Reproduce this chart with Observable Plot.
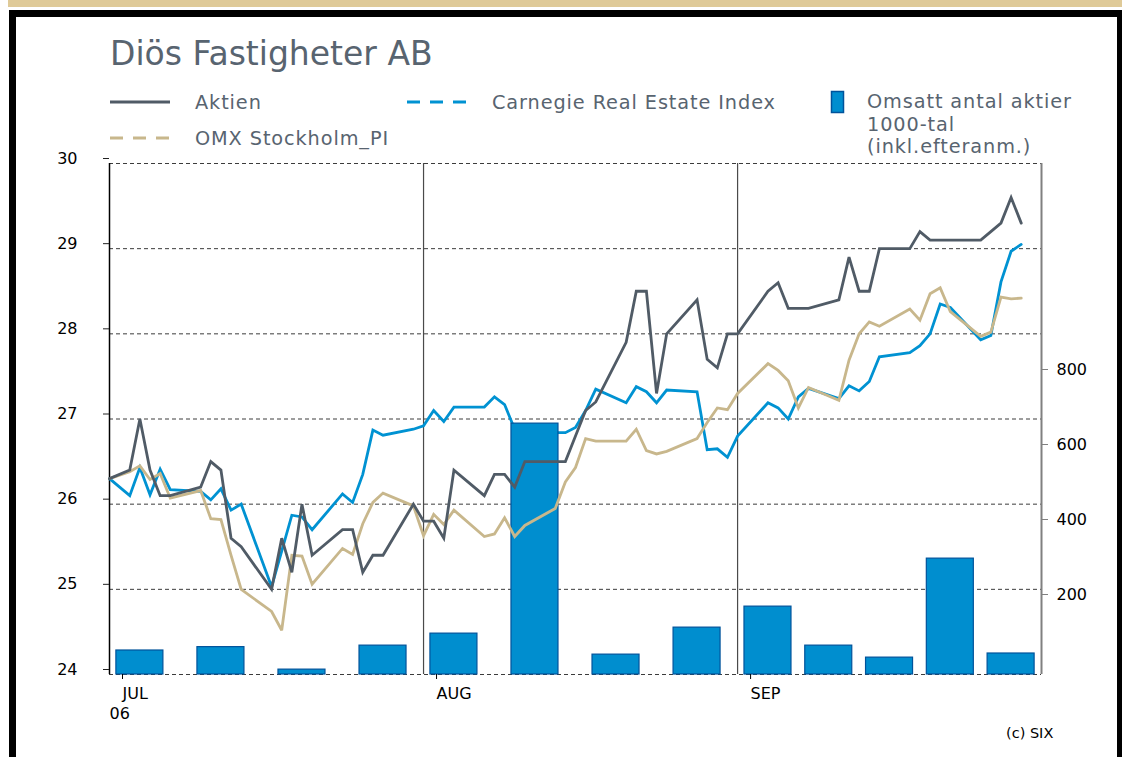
<!DOCTYPE html>
<html>
<head>
<meta charset="utf-8">
<script src="https://cdn.jsdelivr.net/npm/d3@7"></script>
<script src="https://cdn.jsdelivr.net/npm/@observablehq/plot@0.6"></script>
<style>
  html, body { margin: 0; padding: 0; background: #fff; }
  body { width: 1122px; height: 757px; overflow: hidden; position: relative; font-family: "DejaVu Sans", sans-serif; }
  .band { position: absolute; left: 8px; top: 0; width: 1114px; height: 7px; background: #dfca98; }
  .frame { position: absolute; left: 9px; top: 10px; width: 1101px; height: 900px; border: 7px solid #000; }
  #chart { position: absolute; left: 0; top: 0; }
  #hdr { position: absolute; left: 0; top: 0; }
  #hdr text { font-family: "DejaVu Sans", sans-serif; fill: #586470; }
  #hdr .lg { font-size: 19.3px; letter-spacing: 0.9px; }
  .credit { position: absolute; left: 1006px; top: 725px; font-size: 14.5px; color: #000; }
</style>
</head>
<body>
<div class="band"></div>
<div class="frame"></div>
<div id="chart"></div>
<svg id="hdr" width="1122" height="160">
  <text x="110" y="65" font-size="33">Diös Fastigheter AB</text>
  <line x1="110" x2="170" y1="102" y2="102" stroke="#505b66" stroke-width="3"/>
  <text class="lg" x="195" y="109">Aktien</text>
  <line x1="407" x2="470" y1="102" y2="102" stroke="#0092d2" stroke-width="3" stroke-dasharray="13,10"/>
  <text class="lg" x="492" y="109">Carnegie Real Estate Index</text>
  <rect x="831.5" y="91.5" width="12" height="21" fill="#008ecf" stroke="#00539b" stroke-width="1.5"/>
  <text class="lg" x="867" y="108">Omsatt antal aktier</text>
  <text class="lg" x="867" y="130.5">1000-tal</text>
  <text class="lg" x="867" y="153">(inkl.efteranm.)</text>
  <line x1="110" x2="170" y1="138" y2="138" stroke="#c8b78c" stroke-width="3" stroke-dasharray="13,10"/>
  <text class="lg" x="195" y="145">OMX Stockholm_PI</text>
</svg>
<div class="credit">(c) SIX</div>
<script>
// ---- data ----
const dates = [
  "2006-07-01","2006-07-03","2006-07-04","2006-07-05","2006-07-06","2006-07-07",
  "2006-07-10","2006-07-11","2006-07-12","2006-07-13","2006-07-14",
  "2006-07-17","2006-07-18","2006-07-19","2006-07-20","2006-07-21",
  "2006-07-24","2006-07-25","2006-07-26","2006-07-27","2006-07-28","2006-07-31",
  "2006-08-01","2006-08-02","2006-08-03","2006-08-04",
  "2006-08-07","2006-08-08","2006-08-09","2006-08-10","2006-08-11",
  "2006-08-14","2006-08-15","2006-08-16","2006-08-17","2006-08-18",
  "2006-08-21","2006-08-22","2006-08-23","2006-08-24","2006-08-25",
  "2006-08-28","2006-08-29","2006-08-30","2006-08-31",
  "2006-09-01","2006-09-04","2006-09-05","2006-09-06","2006-09-07","2006-09-08",
  "2006-09-11","2006-09-12","2006-09-13","2006-09-14","2006-09-15",
  "2006-09-18","2006-09-19","2006-09-20","2006-09-21","2006-09-22",
  "2006-09-25","2006-09-26","2006-09-27","2006-09-28","2006-09-29"
];
const aktien = [
  26.3, 26.4, 27.0, 26.4, 26.1, 26.1,
  26.2, 26.5, 26.4, 25.6, 25.5,
  25.0, 25.6, 25.2, 26.0, 25.4,
  25.7, 25.7, 25.2, 25.4, 25.4, 26.0,
  25.8, 25.8, 25.6, 26.4,
  26.1, 26.35, 26.35, 26.2, 26.5,
  26.5, 26.5, 26.8, 27.1, 27.2,
  27.9, 28.5, 28.5, 27.3, 28.0,
  28.4, 27.7, 27.6, 28.0,
  28.0, 28.5, 28.6, 28.3, 28.3, 28.3,
  28.4, 28.9, 28.5, 28.5, 29.0,
  29.0, 29.2, 29.1, 29.1, 29.1,
  29.1, 29.2, 29.3, 29.6, 29.3
];
const carnegie = [
  26.3, 26.1, 26.43, 26.11, 26.41, 26.17,
  26.15, 26.05, 26.18, 25.93, 26.0,
  25.03, 25.45, 25.87, 25.85, 25.7,
  26.12, 26.02, 26.35, 26.87, 26.81, 26.88,
  26.92, 27.10, 26.97, 27.14,
  27.14, 27.26, 27.17, 26.88, 26.85,
  26.84, 26.84, 26.9, 27.1, 27.35,
  27.19, 27.38, 27.32, 27.19, 27.34,
  27.32, 26.64, 26.65, 26.55,
  26.8, 27.19, 27.13, 27.0, 27.26, 27.36,
  27.24, 27.39, 27.33, 27.44, 27.73,
  27.78, 27.86, 28.0, 28.35, 28.31,
  27.93, 27.98, 28.61, 28.97, 29.05
];
const omx = [
  26.3, 26.38, 26.45, 26.29, 26.36, 26.07,
  26.16, 25.83, 25.82, 25.4, 25.0,
  24.74, 24.52, 25.4, 25.39, 25.06,
  25.48, 25.41, 25.77, 26.02, 26.13, 25.98,
  25.63, 25.88, 25.76, 25.93,
  25.62, 25.65, 25.84, 25.62, 25.75,
  25.95, 26.26, 26.43, 26.77, 26.74,
  26.74, 26.88, 26.63, 26.59, 26.62,
  26.77, 26.96, 27.13, 27.11,
  27.3, 27.65, 27.57, 27.45, 27.13, 27.37,
  27.22, 27.69, 28.0, 28.14, 28.09,
  28.29, 28.16, 28.47, 28.54, 28.26,
  27.97, 28.02, 28.43, 28.41, 28.42
];
const barDates = [
  "2006-07-04","2006-07-12","2006-07-20","2006-07-28",
  "2006-08-04","2006-08-12","2006-08-20","2006-08-28",
  "2006-09-04","2006-09-10","2006-09-16","2006-09-22","2006-09-28"
];
const volume = [64, 73, 13, 77, 109, 669, 53, 125, 181, 77, 45, 309, 56];

const monthStarts = ["2006-07-01","2006-08-01","2006-09-01"];
const monthLabels = ["JUL","AUG","SEP"];
const yearLabel = "06";
const leftTicks = [24, 25, 26, 27, 28, 29, 30];
const rightTicks = [200, 400, 600, 800];
const xDomain = ["2006-07-01","2006-10-01"];
const yDomain = [24, 30];
const volAtTop = 1362.7;   // volume value at the top of the frame (right axis)

// ---- derived ----
const DAY = 864e5;
const barHalfDays = 2.32;
const volToY = v => yDomain[0] + v * (yDomain[1] - yDomain[0]) / volAtTop;
const yToVol = y => (y - yDomain[0]) * volAtTop / (yDomain[1] - yDomain[0]);

const table = dates.map((d, i) => ({date: new Date(d), aktien: aktien[i], carnegie: carnegie[i], omx: omx[i]}));
const bars = barDates.map((d, i) => ({date: new Date(d), vol: volume[i]}));
const months = monthStarts.map(d => new Date(d));
const labelByTime = new Map(months.map((d, i) => [+d, monthLabels[i]]));
const xMin = new Date(xDomain[0]), xMax = new Date(xDomain[1]);

const chart = Plot.plot({
  width: 1122,
  height: 757,
  marginTop: 163,
  marginBottom: 83,
  marginLeft: 109,
  marginRight: 81,
  style: {background: "transparent", fontFamily: "DejaVu Sans, sans-serif", fontSize: "16px", color: "#000", overflow: "visible"},
  x: {type: "utc", domain: [xMin, xMax]},
  y: {domain: yDomain},
  marks: [
    Plot.ruleY(leftTicks, {stroke: "#3c3c3c", strokeDasharray: "4,3", strokeWidth: 1}),
    Plot.ruleX(months.slice(1), {stroke: "#4a4a4a", strokeWidth: 1.2}),
    Plot.ruleX([xMin], {stroke: "#000", strokeWidth: 1.5}),
    Plot.ruleX([xMax], {stroke: "#808080", strokeWidth: 2}),
    Plot.lineY(table, {x: "date", y: "carnegie", stroke: "#0092d2", strokeWidth: 2.8, strokeLinejoin: "miter", strokeMiterlimit: 3}),
    Plot.rectY(bars, {
      x1: d => new Date(+d.date - barHalfDays * DAY),
      x2: d => new Date(+d.date + barHalfDays * DAY),
      y1: yDomain[0], y2: d => volToY(d.vol),
      fill: "#008ecf", stroke: "#00539b", strokeWidth: 1.2
    }),
    Plot.lineY(table, {x: "date", y: "omx", stroke: "#c8b78c", strokeWidth: 2.8, strokeLinejoin: "miter", strokeMiterlimit: 3}),
    Plot.lineY(table, {x: "date", y: "aktien", stroke: "#505b66", strokeWidth: 2.8, strokeLinejoin: "miter", strokeMiterlimit: 3}),
    Plot.axisY(leftTicks, {anchor: "left", tickSize: 6, tickPadding: 26, dy: -5, fontSize: 16, stroke: "#222", fill: "#000", label: null, tickFormat: d => String(d)}),
    Plot.axisY(rightTicks.map(volToY), {anchor: "right", tickSize: 6, tickPadding: 9, dy: -5, fontSize: 16,
      stroke: "#808080", fill: "#000", label: null, tickFormat: d => String(Math.round(yToVol(d)))}),
    Plot.axisX(months, {anchor: "bottom", tickSize: 5, tickPadding: 8, textAnchor: "start", dx: 13, fontSize: 16,
      stroke: "#000", fill: "#000", label: null, tickFormat: d => labelByTime.get(+d)}),
    Plot.text([yearLabel], {x: () => xMin, y: () => yDomain[0], dy: 39, text: d => d, textAnchor: "start", fontSize: 16, fill: "#000"})
  ]
});
document.getElementById("chart").appendChild(chart);
</script>
</body>
</html>
